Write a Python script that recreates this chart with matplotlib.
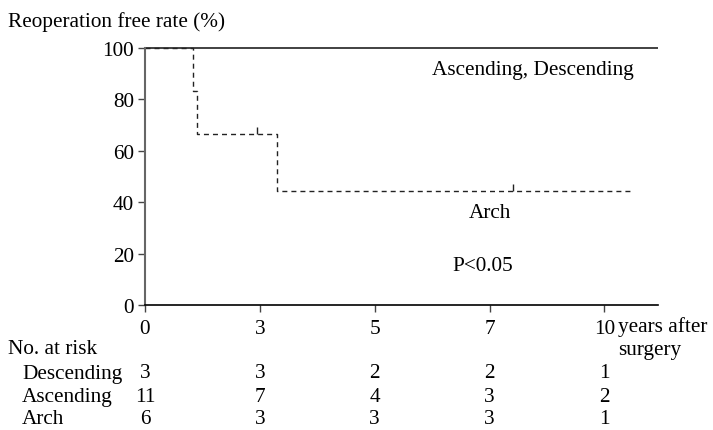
import matplotlib
matplotlib.use("Agg")
import matplotlib.pyplot as plt
import numpy as np

# ---------------------------------------------------------------------
# Data (years after surgery, reoperation free rate in %)
# ---------------------------------------------------------------------

tick_years = [0, 3, 5, 7, 10]

arch_times = [0, 1.25, 1.37, 3.3, 10.7]
arch_rates = [100, 83.3, 66.7, 44.4, 44.4]
arch_censor_times = [2.93, 7.6]
arch_censor_rates = [66.7, 44.4]

asc_desc_times = [0, 11.4]
asc_desc_rates = [100, 100]

risk_groups = ["Descending", "Ascending", "Arch"]
risk_descending = [3, 3, 2, 2, 1]
risk_ascending = [11, 7, 4, 3, 2]
risk_arch = [6, 3, 3, 3, 1]

# ---------------------------------------------------------------------
# Uneven year axis: ticks 0, 3, 5, 7, 10 are spaced equally
# ---------------------------------------------------------------------

SCALE_YEARS = [0, 3, 5, 7, 10, 13]
SCALE_POS = [0, 1, 2, 3, 4, 5]


def forward(x):
    return np.interp(x, SCALE_YEARS, SCALE_POS)


def inverse(p):
    return np.interp(p, SCALE_POS, SCALE_YEARS)


plt.rcParams["font.family"] = ["Liberation Serif", "DejaVu Serif"]
FS = 15.3

fig = plt.figure(figsize=(7.13, 4.31), dpi=100)
ax = fig.add_axes([145 / 713, 1 - 306 / 431, 513 / 713, 257 / 431])

ax.set_xscale("function", functions=(forward, inverse))
ax.set_xlim(0, 11.4)
ax.set_ylim(0, 100)

ax.plot(asc_desc_times, asc_desc_rates, color="#333333", lw=1.3,
        clip_on=False, solid_capstyle="butt")
ax.step(arch_times, arch_rates, where="post", color="#222222", lw=1.0,
        linestyle=(0, (3.6, 2.9)), clip_on=False)
ax.vlines(arch_censor_times, arch_censor_rates,
          np.array(arch_censor_rates) + 2.7, color="#222222", lw=1.0)

for side in ["top", "right"]:
    ax.spines[side].set_visible(False)
ax.spines["left"].set_color("#666666")
ax.spines["left"].set_linewidth(1.5)
ax.spines["bottom"].set_color("black")
ax.spines["bottom"].set_linewidth(1.2)

ax.set_xticks(tick_years)
ax.set_xticklabels([str(t) for t in tick_years])
ax.set_yticks([0, 20, 40, 60, 80, 100])
ax.tick_params(axis="both", labelsize=FS, length=5, width=1.0,
               color="#444444")
ax.tick_params(axis="y", pad=3)
ax.tick_params(axis="x", pad=5)

fig.text(8 / 713, 1 - 22 / 431, "Reoperation free rate (%)", fontsize=FS,
         va="center", ha="left")

ax.text(8.14, 91.8, "Ascending, Descending", fontsize=FS,
        ha="center", va="center")
ax.text(7.0, 35.8, "Arch", fontsize=FS, ha="center", va="center")
ax.text(6.88, 15.2, "P<0.05", fontsize=FS, ha="center", va="center")

fig.text(618 / 713, 1 - 327 / 431, "years after", fontsize=FS,
         ha="left", va="center")
fig.text(618 / 713, 1 - 350 / 431, "surgery", fontsize=FS,
         ha="left", va="center")

# number at risk table
fig.text(8 / 713, 1 - 350 / 431, "No. at risk", fontsize=FS,
         ha="left", va="center")
risk_rows = [risk_descending, risk_ascending, risk_arch]
row_y = [374, 398, 420]
xform = ax.get_xaxis_transform()
for name, counts, y_px in zip(risk_groups, risk_rows, row_y):
    fig.text(22 / 713, 1 - y_px / 431, name, fontsize=FS,
             ha="left", va="center")
    y_ax = (306 - y_px) / 257
    for t, c in zip(tick_years, counts):
        ax.text(t, y_ax, str(c), fontsize=FS, ha="center", va="center",
                transform=xform, clip_on=False)

fig.savefig("out.png", dpi=100)
